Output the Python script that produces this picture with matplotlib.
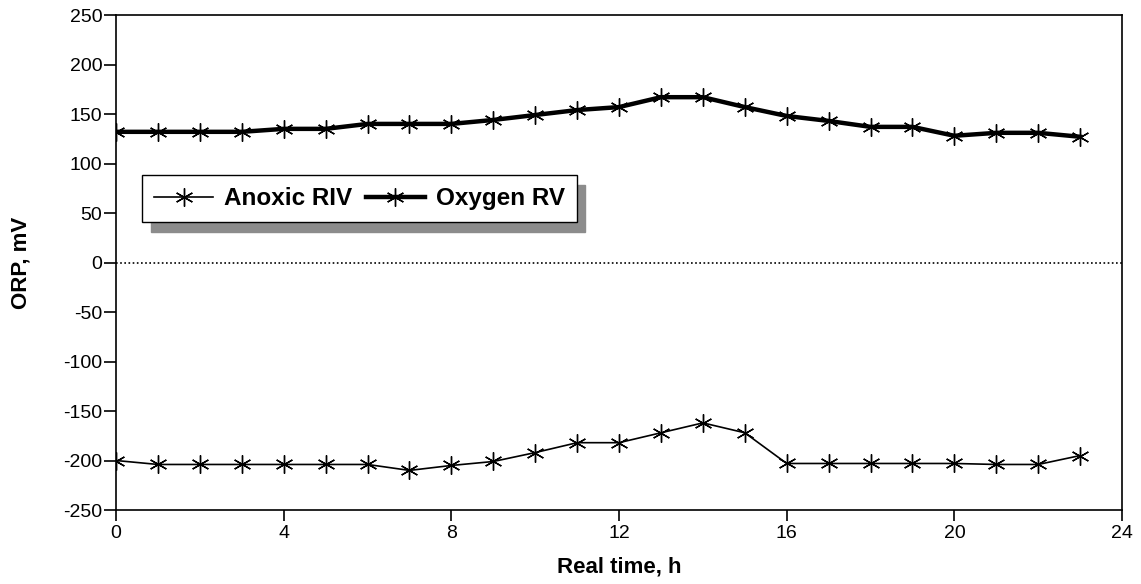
import matplotlib
matplotlib.use('Agg')
from matplotlib import pyplot as plt

plt.rcParams['font.family'] = ['Liberation Sans', 'DejaVu Sans']
plt.rcParams['axes.unicode_minus'] = False

hours = list(range(24))
anoxic_riv = [-200, -204, -204, -204, -204, -204, -204, -210, -205, -201, -192, -182,
              -182, -172, -162, -172, -203, -203, -203, -203, -203, -204, -204, -195]
oxygen_rv = [132, 132, 132, 132, 135, 135, 140, 140, 140, 144, 149, 154,
             157, 167, 167, 157, 148, 143, 137, 137, 128, 131, 131, 127]
x_ticks = [0, 4, 8, 12, 16, 20, 24]
y_ticks = list(range(-250, 251, 50))


def graphing():
    fig = plt.figure(figsize=(11.41, 5.84), dpi=100)
    ax = fig.add_axes([0.1017, 0.1267, 0.8817, 0.8476])

    star = (6, 2, 0)
    ax.plot(hours, anoxic_riv, color='black', lw=1.2, marker=star,
            markersize=13, markeredgewidth=1.0, label='Anoxic RIV')
    ax.plot(hours, oxygen_rv, color='black', lw=3.2, marker=star,
            markersize=13, markeredgewidth=1.0, label='Oxygen RV')
    ax.axhline(0, color='black', lw=1.2, ls=(0, (1, 1.5)))

    ax.set_xlim(0, 24)
    ax.set_ylim(-250, 250)
    ax.set_xticks(x_ticks)
    ax.set_yticks(y_ticks)
    ax.tick_params(axis='y', direction='out', length=9, width=1.2, pad=1,
                   labelsize=14, right=False)
    ax.tick_params(axis='x', direction='out', length=8, width=1.2, pad=3,
                   labelsize=14, top=False)
    for s in ax.spines.values():
        s.set_linewidth(1.2)

    ax.set_xlabel('Real time, h', fontsize=16, fontweight='bold', labelpad=10)
    ax.set_ylabel('ORP, mV', fontsize=16, fontweight='bold', labelpad=23)

    leg = ax.legend(loc='upper left', bbox_to_anchor=(0.026, 0.677),
                    borderaxespad=0, ncol=2, fancybox=False, frameon=True,
                    prop={'weight': 'bold', 'size': 17.5}, handlelength=2.4,
                    columnspacing=0.6, handletextpad=0.45, borderpad=0.5,
                    shadow={'color': '0.55', 'alpha': 1, 'ox': 6, 'oy': -7})
    leg.get_frame().set_edgecolor('black')
    leg.get_frame().set_linewidth(1.0)
    leg.get_frame().set_alpha(1)

    fig.savefig('out.png', dpi=100)


if __name__ == "__main__":
    graphing()
